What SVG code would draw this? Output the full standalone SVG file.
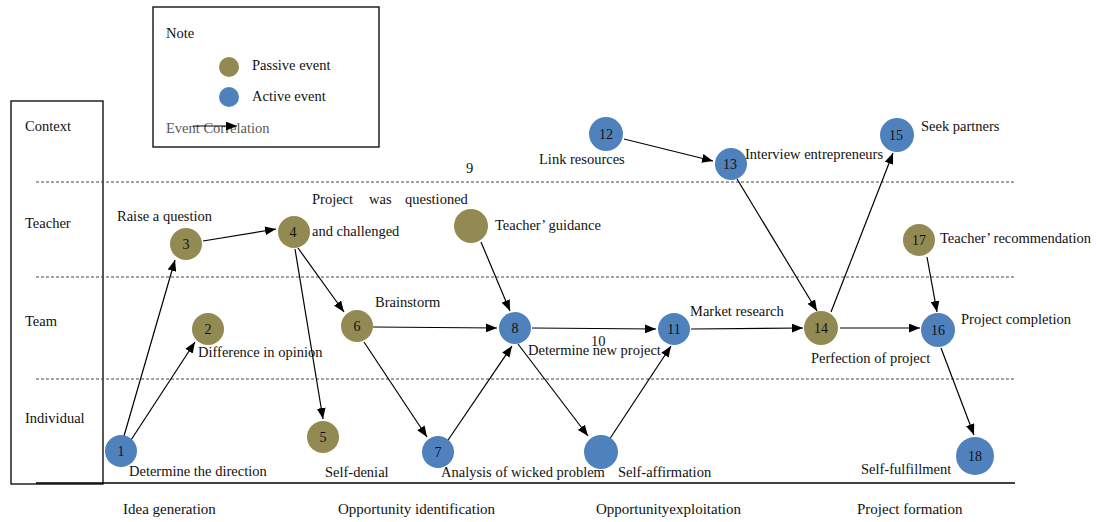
<svg xmlns="http://www.w3.org/2000/svg" width="1096" height="522" viewBox="0 0 1096 522">
<defs>
<marker id="ah" viewBox="0 0 10 8" refX="10" refY="4" markerWidth="11" markerHeight="9" markerUnits="userSpaceOnUse" orient="auto">
<path d="M0,0 L10,4 L0,8 z" fill="#000"/>
</marker>
</defs>
<style>
text{font-family:"Liberation Serif","Times New Roman",serif;font-size:14.5px;fill:#111}
.num{text-anchor:middle;font-size:14px}
.p{fill:#938953}
.a{fill:#4F81BD}
.dash{stroke:#444;stroke-width:1;stroke-dasharray:3 2;fill:none}
.edge{stroke:#000;stroke-width:1.2;fill:none;marker-end:url(#ah)}
.big{font-size:15px}
</style>
<rect width="1096" height="522" fill="#fff"/>
<g id="lanes">
<rect x="11" y="101" width="92" height="383" fill="none" stroke="#000" stroke-width="1.3"/>
<line class="dash" x1="36" y1="182" x2="1015" y2="182"/>
<line class="dash" x1="36" y1="277" x2="1015" y2="277"/>
<line class="dash" x1="36" y1="379" x2="1015" y2="379"/>
<line x1="36" y1="483" x2="1015" y2="483" stroke="#000" stroke-width="1.3"/>
<text x="25" y="131">Context</text>
<text x="25" y="228">Teacher</text>
<text x="25" y="326">Team</text>
<text x="25" y="423">Individual</text>
<text x="123" y="514" class="big">Idea generation</text>
<text x="338" y="514" class="big">Opportunity identification</text>
<text x="596" y="514" class="big">Opportunityexploitation</text>
<text x="857" y="514" class="big">Project formation</text>
</g>
<g id="note">
<rect x="153" y="7" width="226" height="140" fill="#fff" stroke="#000" stroke-width="1.3"/>
<text x="166" y="38">Note</text>
<circle class="p" cx="229" cy="67" r="10"/>
<text x="252" y="70">Passive event</text>
<circle class="a" cx="229" cy="97" r="10"/>
<text x="252" y="101">Active event</text>
<text x="166" y="133" style="fill:#595959">Event Correlation</text>
<line x1="193" y1="126" x2="237" y2="126" stroke="#000" stroke-width="1.2" marker-end="url(#ah)"/>
</g>
<g id="connectors">
<line class="edge" x1="124" y1="436" x2="175" y2="260"/>
<line class="edge" x1="131" y1="440" x2="195" y2="342"/>
<line class="edge" x1="203" y1="241" x2="276" y2="229"/>
<line class="edge" x1="298" y1="248" x2="344" y2="312"/>
<line class="edge" x1="295" y1="249" x2="323" y2="419"/>
<line class="edge" x1="373" y1="327" x2="497" y2="328"/>
<line class="edge" x1="364" y1="342" x2="427" y2="437"/>
<line class="edge" x1="444" y1="446" x2="512" y2="346"/>
<line class="edge" x1="481" y1="242" x2="510" y2="311"/>
<line class="edge" x1="518" y1="344" x2="588" y2="436"/>
<line class="edge" x1="532" y1="328" x2="656" y2="329"/>
<line class="edge" x1="609" y1="440" x2="671" y2="346"/>
<line class="edge" x1="691" y1="329" x2="803" y2="328"/>
<line class="edge" x1="624" y1="139" x2="713" y2="161"/>
<line class="edge" x1="737" y1="179" x2="817" y2="311"/>
<line class="edge" x1="831" y1="312" x2="893" y2="153"/>
<line class="edge" x1="840" y1="328" x2="920" y2="328"/>
<line class="edge" x1="927" y1="257" x2="937" y2="312"/>
<line class="edge" x1="941" y1="348" x2="974" y2="435"/>
</g>
<g id="n1"><circle class="a" cx="121" cy="451" r="16"/><text class="num" x="121" y="456">1</text><text x="129" y="476">Determine the direction</text></g>
<g id="n2"><circle class="p" cx="208" cy="329" r="16"/><text class="num" x="208" y="334">2</text><text x="198" y="357">Difference in opinion</text></g>
<g id="n3"><circle class="p" cx="186" cy="244" r="16"/><text class="num" x="186" y="249">3</text><text x="117" y="221">Raise a question</text></g>
<g id="n4"><circle class="p" cx="294" cy="232" r="16"/><text class="num" x="293" y="237">4</text><text x="312" y="204">Project</text><text x="369" y="204">was</text><text x="405" y="204">questioned</text><text x="312" y="236">and challenged</text></g>
<g id="n5"><circle class="p" cx="323" cy="437" r="16"/><text class="num" x="323" y="442">5</text><text x="325" y="477">Self-denial</text></g>
<g id="n6"><circle class="p" cx="357" cy="326" r="16"/><text class="num" x="357" y="331">6</text><text x="375" y="307">Brainstorm</text></g>
<g id="n7"><circle class="a" cx="438" cy="452" r="16"/><text class="num" x="438" y="457">7</text><text x="441" y="477">Analysis of wicked problem</text></g>
<g id="n8"><circle class="a" cx="515" cy="328" r="16"/><text class="num" x="515" y="333">8</text><text x="528" y="355">Determine new project</text></g>
<g id="n9"><circle class="p" cx="471" cy="226" r="17"/><text x="466" y="173">9</text><text x="495" y="230">Teacher’ guidance</text></g>
<g id="n10"><text x="591" y="346">10</text></g>
<g id="n11"><circle class="a" cx="674" cy="329" r="16"/><text class="num" x="674" y="334">11</text><text x="690" y="316">Market research</text></g>
<g id="nself"><circle class="a" cx="601" cy="452" r="17"/><text x="618" y="477">Self-affirmation</text></g>
<g id="n12"><circle class="a" cx="606" cy="134" r="17"/><text class="num" x="606" y="139">12</text><text x="539" y="164">Link resources</text></g>
<g id="n13"><circle class="a" cx="731" cy="164" r="16"/><text class="num" x="730" y="169">13</text><text x="745" y="159">Interview entrepreneurs</text></g>
<g id="n14"><circle class="p" cx="821" cy="328" r="17"/><text class="num" x="821" y="333">14</text><text x="811" y="363">Perfection of project</text></g>
<g id="n15"><circle class="a" cx="897" cy="135" r="17"/><text class="num" x="896" y="140">15</text><text x="921" y="131">Seek partners</text></g>
<g id="n16"><circle class="a" cx="938" cy="330" r="17"/><text class="num" x="938" y="335">16</text><text x="961" y="324">Project completion</text></g>
<g id="n17"><circle class="p" cx="919" cy="240" r="16"/><text class="num" x="919" y="245">17</text><text x="940" y="243">Teacher’ recommendation</text></g>
<g id="n18"><circle class="a" cx="975" cy="456" r="19"/><text class="num" x="975" y="461">18</text><text x="861" y="474">Self-fulfillment</text></g>
</svg>
